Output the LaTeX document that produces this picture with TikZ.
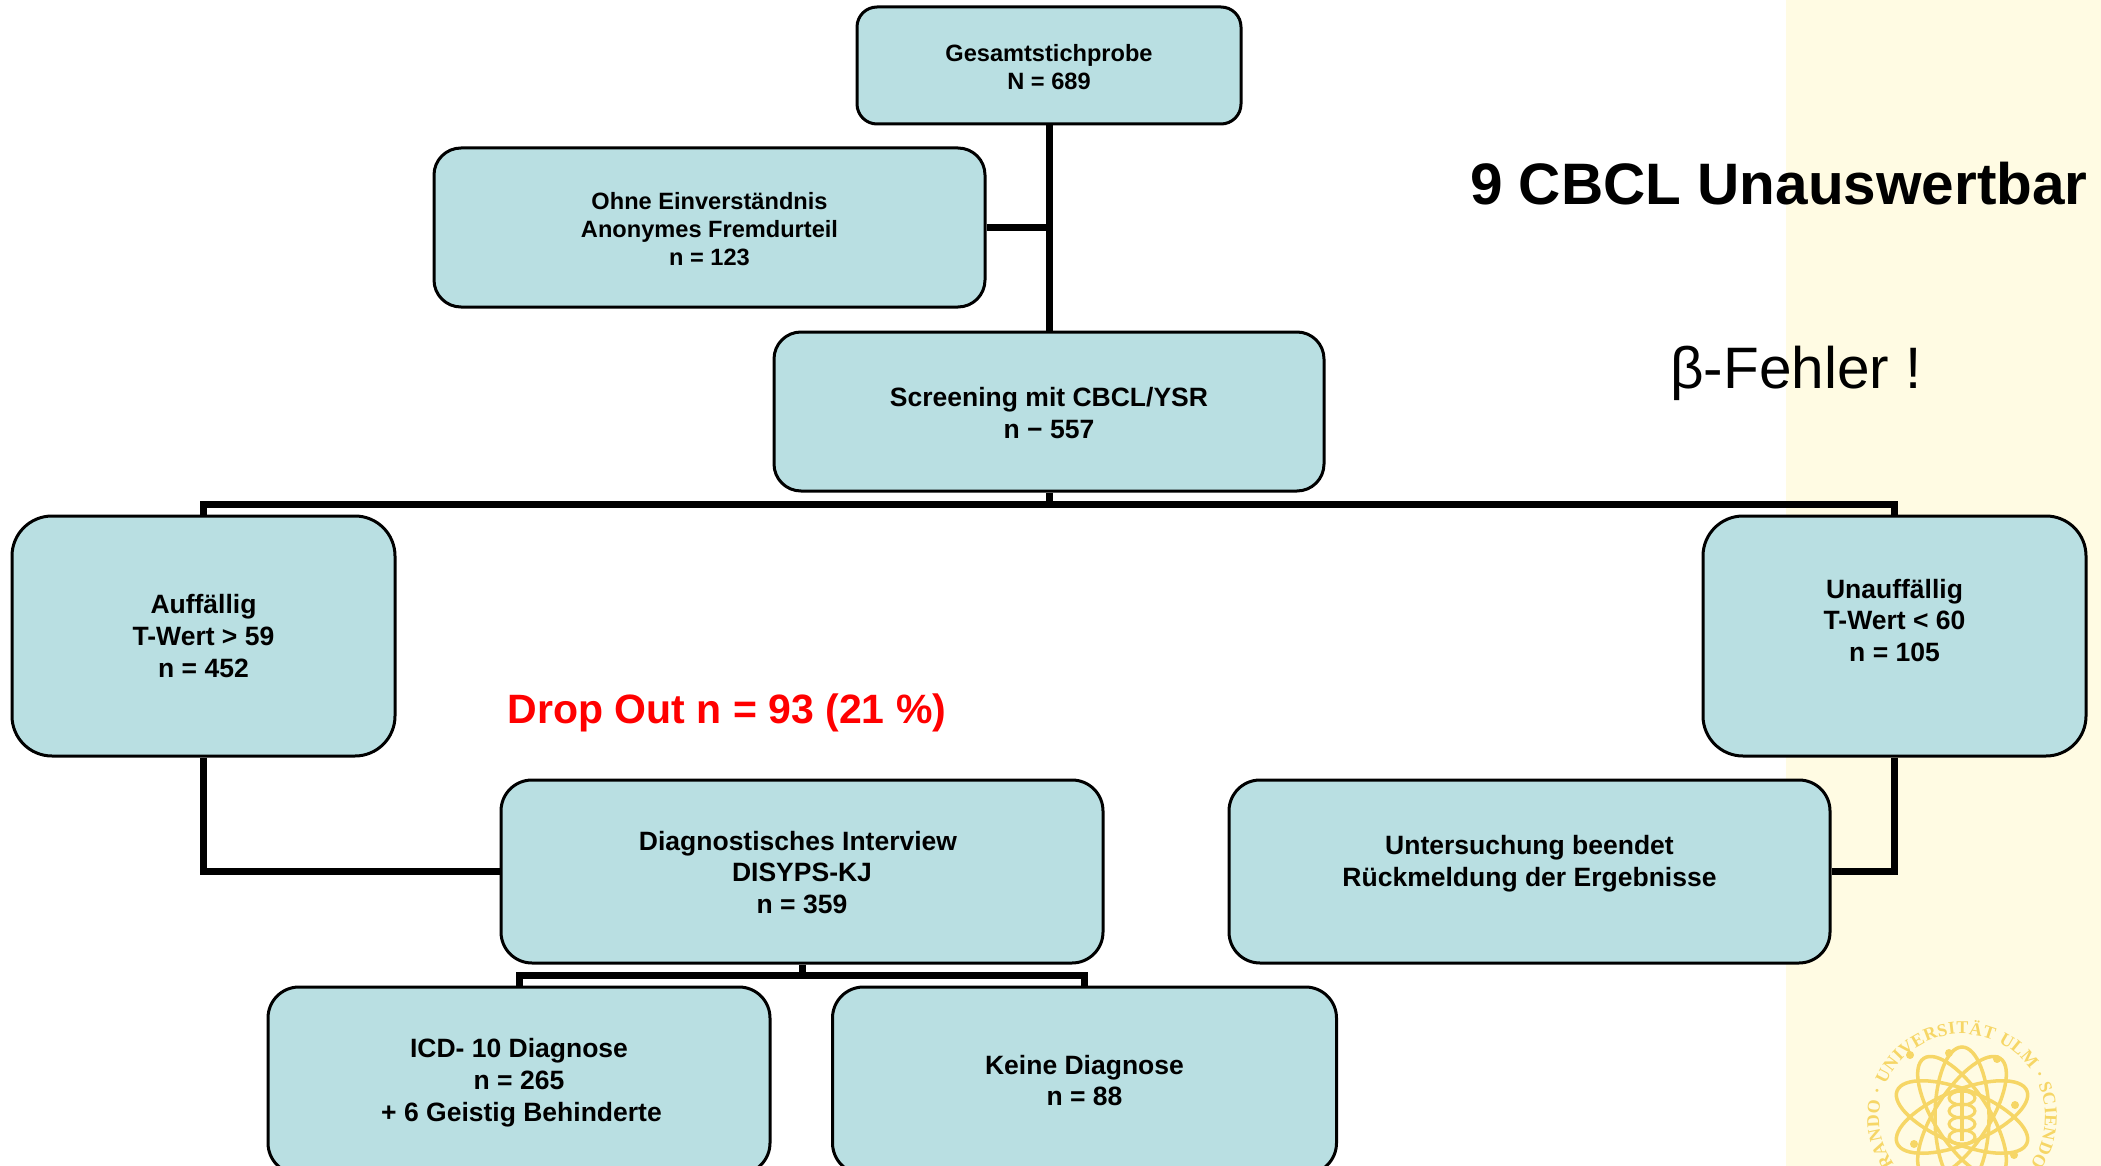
\documentclass[tikz,border=0pt]{standalone}
\usepackage{fontspec}
\setmainfont{Liberation Sans}
\newfontfamily\logofont{Liberation Serif}
\usetikzlibrary{decorations.text}
\definecolor{boxfill}{HTML}{B9DFE2}
\definecolor{paper}{HTML}{FFFBE3}
\definecolor{logoc}{HTML}{F6D666}
\newcommand{\fsA}{\fontsize{23.6}{28}\selectfont\bfseries}
\newcommand{\fsB}{\fontsize{26.5}{31.7}\selectfont\bfseries}
\tikzset{
  box/.style={draw=black,line width=3pt,fill=boxfill,inner sep=0pt,align=center,text=black},
  lbl/.style={align=center,inner sep=0pt,font=\fsB},
  lblsmall/.style={align=center,inner sep=0pt,font=\fsA},
  conn/.style={draw=black,line width=7pt},
  orbit/.style={draw=logoc,line width=3.5pt},
}
\begin{document}
\begin{tikzpicture}[x=1pt,y=-1pt]
\useasboundingbox (0,0) rectangle (2101,1166);
\clip (0,0) rectangle (2101,1166);
\fill[paper] (1786,0) rectangle (2101,1166);
% logo
\begin{scope}[shift={(1962,1117)},y=1pt]
  \foreach \a in {90,57,123,22,158}{
    \draw[orbit,rotate=\a] (0,0) ellipse (70pt and 27pt);
  }
  \foreach \p in {(-52,62),(-48,-27),(-13,64),(35,58),(53,12),(52,-38),(-14,-61)}{
    \fill[logoc] \p circle (4pt);
  }
  \draw[orbit] (0,-24) -- (0,26);
  \foreach \yy in {-20,-7,6,19}{
    \draw[orbit,line width=3pt] (0,\yy) ellipse (13pt and 7pt);
  }
  \path[decorate,decoration={text along path,text align=fit to path,
      text={|\logofont\bfseries\fontsize{18}{18}\selectfont\color{logoc}|RANDO · UNIVERSITÄT ULM · SCIENDO}}]
      (215:83pt) arc[start angle=215,end angle=-35,radius=83pt];
\end{scope}
% boxes
\node[box,minimum width=384pt,minimum height=117pt,rounded corners=20pt,
  label={[lblsmall,yshift=-1.2pt]center:Gesamtstichprobe\\N = 689}] (gesamt) at (1049,65.5) {};
\node[box,minimum width=551pt,minimum height=159pt,rounded corners=27pt,
  label={[lblsmall,yshift=-1.2pt]center:Ohne Einverständnis\\Anonymes Fremdurteil\\n = 123}] (ohne) at (709.5,227.5) {};
\node[box,minimum width=550pt,minimum height=159pt,rounded corners=27pt,
  label={[lbl,yshift=-1.2pt]center:Screening mit CBCL/YSR\\n − 557}] (screen) at (1049,411.5) {};
\node[box,minimum width=383pt,minimum height=240pt,rounded corners=40pt,
  label={[lbl]center:Auffällig\\T-Wert > 59\\n = 452}] (auff) at (203.5,636) {};
\node[box,minimum width=383pt,minimum height=240pt,rounded corners=40pt,
  label={[lbl,yshift=15.5pt]center:Unauffällig\\T-Wert < 60\\n = 105}] (unauff) at (1894.5,636) {};
\node[box,minimum width=602pt,minimum height=183pt,rounded corners=31pt,
  label={[lbl,yshift=-1pt]center:Diagnostisches Interview\hspace*{8pt}\\DISYPS-KJ\\n = 359}] (diag) at (802,871.5) {};
\node[box,minimum width=601pt,minimum height=183pt,rounded corners=31pt,
  label={[lbl,yshift=8pt]center:Untersuchung beendet\\Rückmeldung der Ergebnisse}] (unters) at (1529.5,871.5) {};
\node[box,minimum width=502pt,minimum height=187pt,rounded corners=31pt,
  label={[lbl,yshift=-2pt]center:ICD- 10 Diagnose\\n = 265\\\hspace*{5pt}+ 6 Geistig Behinderte}] (icd) at (519,1080.5) {};
\node[box,minimum width=504pt,minimum height=187pt,rounded corners=31pt,
  label={[lbl]center:Keine Diagnose\\n = 88}] (keine) at (1084.5,1080.5) {};
% free texts
\node[font=\fontsize{41}{46}\selectfont\bfseries,text=red,inner sep=0pt] (drop) at (727,712.5) {Drop Out n = 93 (21 \%)};
\node[font=\fontsize{58.5}{66}\selectfont\bfseries,inner sep=0pt] (titel) at (1779,184) {9 CBCL Unauswertbar};
\node[font=\fontsize{58.5}{66}\selectfont,inner sep=0pt] (beta) at (1796,373) {β-Fehler !};
% connectors
\coordinate (bus) at (1049,504);
\coordinate (busb) at (802,975);
\draw[conn] (gesamt.south) -- (screen.north);
\draw[conn] (ohne.east) -- (ohne.east -| gesamt.south);
\draw[conn] (screen.south) -- (bus);
\draw[conn] (auff.north) |- (bus) -| (unauff.north);
\draw[conn] (auff.south) |- (diag.west);
\draw[conn] (unauff.south) |- (unters.east);
\draw[conn] (diag.south) -- (busb);
\draw[conn] (icd.north) |- (busb) -| (keine.north);
\end{tikzpicture}
\end{document}
